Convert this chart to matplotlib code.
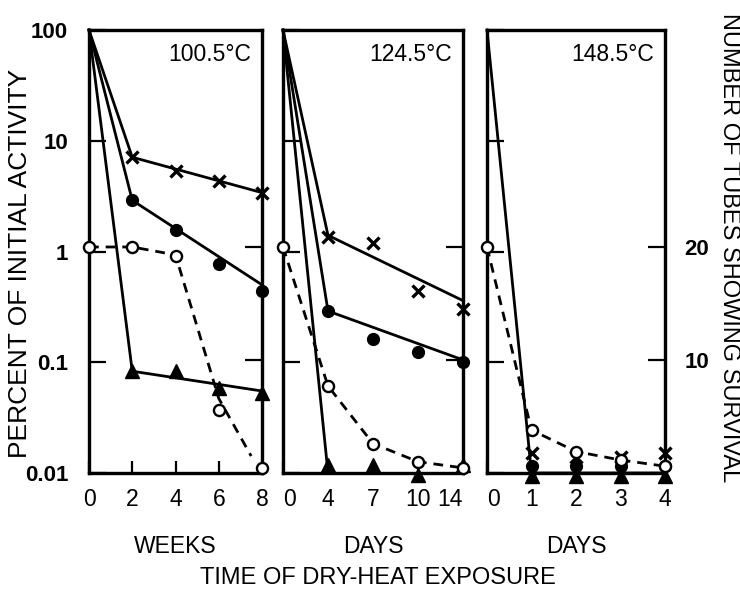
import numpy as np
import matplotlib
matplotlib.use("Agg")
import matplotlib.pyplot as plt
from matplotlib.ticker import NullLocator, FixedLocator

plt.rcParams['font.family'] = ['Liberation Sans', 'DejaVu Sans']

# ---- data ----
temps = ["100.5°C", "124.5°C", "148.5°C"]
unit_labels = ["WEEKS", "DAYS", "DAYS"]

weeks = [0, 2, 4, 6, 8]
days_124 = [0, 4, 7, 10, 14]
days_148 = [0, 1, 2, 3, 4]

# 100.5 C (weeks)
p1_pts = [2, 4, 6, 8]
p1_cross = [7.1, 5.3, 4.3, 3.4]
p1_dot = [2.9, 1.56, 0.77, 0.44]
p1_tri = [0.083, 0.083, 0.058, 0.053]
p1_line_t = [0, 2, 8]
p1_cross_line = [100, 7.1, 3.4]
p1_dot_line = [100, 2.9, 0.5]
p1_tri_line = [100, 0.083, 0.055]
p1_tubes = [20, 20, 19.2, 5.6, 0.4]
p1_tubes_line_t = [0, 2, 4, 6, 7.5]
p1_tubes_line = [20, 20, 19.3, 6.6, 1.5]

# 124.5 C (days, evenly spaced ticks)
p2_pts = [4, 7, 10, 14]
p2_cross = [1.35, 1.2, 0.44, 0.30]
p2_dot = [0.29, 0.163, 0.125, 0.10]
p2_tri = [0.0118, 0.0118, 0.0095, 0.0118]
p2_line_t = [0, 4, 14]
p2_cross_line = [100, 1.4, 0.36]
p2_dot_line = [100, 0.29, 0.105]
p2_tri_line_t = [0, 4]
p2_tri_line = [100, 0.01]
p2_tubes = [20, 7.7, 2.6, 1.0, 0.45]

# 148.5 C (days)
p3_pts = [1, 2, 3, 4]
p3_cross = [0.015, 0.014, 0.014, 0.015]
p3_dot = [0.0115, 0.0115, 0.0115, 0.0115]
p3_tri = [0.0094, 0.0094, 0.0094, 0.0094]
p3_line_t = [0, 1, 4]
p3_line = [100, 0.01, 0.01]
p3_tubes = [20, 3.8, 1.9, 1.15, 0.6]

lw = 2.0
fig = plt.figure(figsize=(7.4, 5.91), dpi=100)

W, H = 740.0, 591.0
bottom_px, top_px = 473, 30
panels_px = [(89, 262), (283, 463), (487, 665)]


def make_axes(x0, x1):
    ax = fig.add_axes([x0 / W, 1 - bottom_px / H, (x1 - x0) / W, (bottom_px - top_px) / H])
    ax.set_yscale('log')
    ax.set_ylim(0.01, 100)
    ax.yaxis.set_minor_locator(NullLocator())
    ax.set_yticks([0.01, 0.1, 1, 10, 100])
    ax.tick_params(axis='y', direction='in', length=12, width=1.6, pad=15,
                   labelsize=16)
    ax.tick_params(axis='x', direction='in', length=9, width=1.6, pad=11,
                   labelsize=16.5)
    for s in ax.spines.values():
        s.set_linewidth(2.3)
    tw = ax.twinx()
    tw.set_ylim(0, 39.2)
    tw.yaxis.set_major_locator(FixedLocator([10, 20]))
    tw.tick_params(axis='y', direction='in', length=12, width=1.6, pad=14,
                   labelsize=16)
    for s in tw.spines.values():
        s.set_linewidth(2.3)
    return ax, tw


axes = [make_axes(a, b) for a, b in panels_px]

mk_cross = dict(marker='x', ms=9, mew=2.4, color='black', ls='none', clip_on=False, zorder=4)
mk_dot = dict(marker='o', ms=8.5, color='black', ls='none', clip_on=False, zorder=4)
mk_tri = dict(marker='^', ms=10.5, color='black', ls='none', clip_on=False, zorder=4)
mk_open = dict(marker='o', ms=8, mfc='white', mec='black', mew=1.7, ls='none',
               clip_on=False, zorder=5)
ln = dict(color='black', lw=lw, clip_on=False)
dash = dict(color='black', lw=lw, ls=(0, (3.5, 2.5)), clip_on=False)

# panel 1
ax, tw = axes[0]
ax.plot(p1_line_t, p1_cross_line, **ln)
ax.plot(p1_line_t, p1_dot_line, **ln)
ax.plot(p1_line_t, p1_tri_line, **ln)
ax.plot(p1_pts, p1_cross, **mk_cross)
ax.plot(p1_pts, p1_dot, **mk_dot)
ax.plot(p1_pts, p1_tri, **mk_tri)
tw.plot(p1_tubes_line_t, p1_tubes_line, **dash)
tw.plot(weeks, p1_tubes, **mk_open)
ax.set_xlim(0, 8)
ax.set_xticks(weeks)
ax.set_xticklabels([str(w) for w in weeks])
ax.set_yticklabels(['0.01', '0.1', '1', '10', '100'], fontweight='bold')
tw.set_yticklabels([])

# panel 2 (ticks evenly spaced)
pos2 = {d: i for i, d in enumerate(days_124)}
ax, tw = axes[1]
ax.plot([pos2[d] for d in p2_line_t], p2_cross_line, **ln)
ax.plot([pos2[d] for d in p2_line_t], p2_dot_line, **ln)
ax.plot([pos2[d] for d in p2_tri_line_t], p2_tri_line, **ln)
ax.plot([pos2[d] for d in p2_pts], p2_cross, **mk_cross)
ax.plot([pos2[d] for d in p2_pts], p2_dot, **mk_dot)
ax.plot([pos2[d] for d in p2_pts], p2_tri, **mk_tri)
tw.plot(range(len(days_124)), p2_tubes, **dash)
tw.plot(range(len(days_124)), p2_tubes, **mk_open)
ax.set_xlim(0, len(days_124) - 1)
ax.set_xticks(range(len(days_124)))
ax.set_xticklabels([str(d) for d in days_124])
ax.set_yticklabels([])
tw.set_yticklabels([])
lbls = ax.get_xticklabels()
lbls[0].set_ha('left')
lbls[-1].set_ha('right')

# panel 3
ax, tw = axes[2]
ax.plot(p3_line_t, p3_line, **ln)
ax.plot(p3_pts, p3_cross, **mk_cross)
ax.plot(p3_pts, p3_dot, **mk_dot)
ax.plot(p3_pts, p3_tri, **mk_tri)
tw.plot(days_148, p3_tubes, **dash)
tw.plot(days_148, p3_tubes, **mk_open)
ax.set_xlim(0, 4)
ax.set_xticks(days_148)
ax.set_xticklabels([str(d) for d in days_148])
ax.set_yticklabels([])
tw.set_yticklabels(['10', '20'], fontweight='bold')
ax.get_xticklabels()[0].set_ha('left')

for (ax, tw), t, u in zip(axes, temps, unit_labels):
    ax.text(0.94, 0.944, t, transform=ax.transAxes, ha='right', va='center',
            fontsize=16.5)
    ax.text(0.5, -0.165, u, transform=ax.transAxes, ha='center', va='center',
            fontsize=16.5)

fig.text(20 / W, 1 - 263 / H, "PERCENT OF INITIAL ACTIVITY", rotation=90,
         ha='center', va='center', fontsize=19)
fig.text(729 / W, 1 - 248 / H, "NUMBER OF TUBES SHOWING SURVIVAL", rotation=-90,
         ha='center', va='center', fontsize=17)
fig.text(378 / W, 1 - 578 / H, "TIME OF DRY-HEAT EXPOSURE", ha='center',
         va='center', fontsize=17)

fig.savefig("out.png", dpi=100)
